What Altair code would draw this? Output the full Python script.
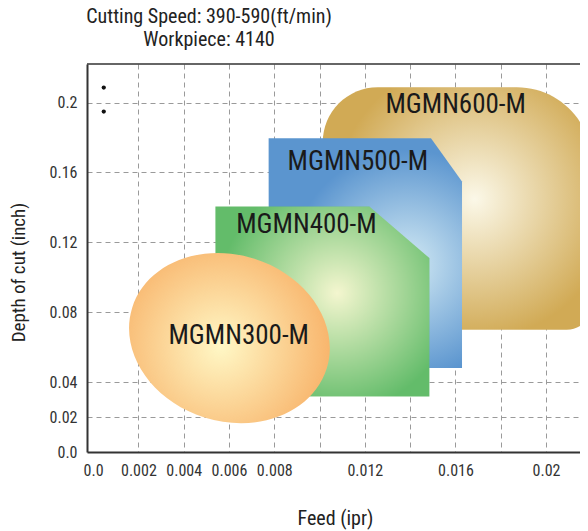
import altair as alt
import pandas as pd

# ---------------- axis ticks ----------------
x_grid_values = [0.002, 0.004, 0.006, 0.008, 0.010, 0.012, 0.014, 0.016, 0.018, 0.020]
x_label_values = [0.0, 0.002, 0.004, 0.006, 0.008, 0.012, 0.016, 0.02]
x_label_texts = ["0.0", "0.002", "0.004", "0.006", "0.008", "0.012", "0.016", "0.02"]
y_label_values = [0.0, 0.02, 0.04, 0.08, 0.12, 0.16, 0.2]
y_label_texts = ["0.0", "0.02", "0.04", "0.08", "0.12", "0.16", "0.2"]

# ---------------- application regions (feed ipr, depth inch) ----------------
gold_feed = [0.01014, 0.02202]
gold_depth = [0.0700, 0.2088]

blue_feed = [0.00775, 0.01492, 0.01629]
blue_top = [0.1796, 0.1796, 0.1548]
blue_bottom = [0.0481, 0.0481, 0.0481]

green_feed = [0.00540, 0.01220, 0.01485]
green_top = [0.1405, 0.1405, 0.1110]
green_bottom = [0.0318, 0.0318, 0.0318]

orange_feed = [0.00602]
orange_depth = [0.0652]

label_names = ["MGMN600-M", "MGMN500-M", "MGMN400-M", "MGMN300-M"]
label_feed = [0.01601, 0.01169, 0.00942, 0.00643]
label_depth = [0.1985, 0.1662, 0.1302, 0.0664]

dot_feed = [0.00047, 0.00047]
dot_depth = [0.2086, 0.1949]

title_lines = ["Cutting Speed: 390-590(ft/min)", "Workpiece: 4140"]

# ---------------- helpers ----------------
FONT = "Roboto Condensed, Liberation Sans Narrow, Arial Narrow, Liberation Sans, sans-serif"


def label_expr(values, texts):
    expr = "''"
    for v, t in reversed(list(zip(values, texts))):
        expr = f"datum.value === {v!r} ? '{t}' : ({expr})"
    return expr


def radial(cx, cy, r, inner, outer):
    return {
        "gradient": "radial",
        "x1": cx, "y1": cy, "r1": 0,
        "x2": cx, "y2": cy, "r2": r,
        "stops": [
            {"offset": 0, "color": inner},
            {"offset": 1, "color": outer},
        ],
    }


W, H = 493, 388
x_scale = alt.Scale(domain=[-0.00027, 0.02150], nice=False, zero=False)
y_scale = alt.Scale(domain=[0.0, 0.2221], nice=False, zero=False)

x_axis = alt.Axis(
    values=sorted([0.0] + x_grid_values),
    labelExpr=label_expr(x_label_values, x_label_texts),
    title="Feed (ipr)", titleFontSize=20,
    titleX=248, titleY=72, titleAlign="center", titleBaseline="alphabetic",
    labelPadding=10,
    gridOpacity={"condition": {"test": "datum.value === 0", "value": 0}, "value": 1},
)
y_axis = alt.Axis(
    values=y_label_values,
    labelExpr=label_expr(y_label_values, y_label_texts),
    title="Depth of cut (inch)", titleFontSize=19,
    titleX=-63, titleY=208, titleAlign="center", titleBaseline="alphabetic", titleAngle=270,
    labelPadding=10,
    gridOpacity={"condition": {"test": "datum.value === 0", "value": 0}, "value": 1},
)

X = alt.X("feed:Q", scale=x_scale, axis=x_axis)
Y = alt.Y("depth:Q", scale=y_scale, axis=y_axis)

gold_df = pd.DataFrame({"feed": [gold_feed[0]], "feed2": [gold_feed[1]],
                        "depth": [gold_depth[0]], "depth2": [gold_depth[1]]})
blue_df = pd.DataFrame({"feed": blue_feed, "depth": blue_top, "depth2": blue_bottom})
green_df = pd.DataFrame({"feed": green_feed, "depth": green_top, "depth2": green_bottom})
orange_df = pd.DataFrame({"feed": orange_feed, "depth": orange_depth})
label_df = pd.DataFrame({"feed": label_feed, "depth": label_depth, "name": label_names})
dot_df = pd.DataFrame({"feed": dot_feed, "depth": dot_depth})

gold = alt.Chart(gold_df).mark_rect(
    fill=radial(0.565, 0.465, 0.52, "#FBF8E8", "#D1AA55"),
    cornerRadiusTopLeft=55, cornerRadiusTopRight=75,
    cornerRadiusBottomRight=25, cornerRadiusBottomLeft=20,
    clip=True,
).encode(x=X, x2="feed2:Q", y=Y, y2="depth2:Q")

blue = alt.Chart(blue_df).mark_area(
    fill=radial(0.68, 0.55, 0.5, "#D3EAF4", "#5B95CF"),
).encode(x=X, y=Y, y2="depth2:Q")

green = alt.Chart(green_df).mark_area(
    fill=radial(0.57, 0.46, 0.55, "#F4F6CF", "#63BC6A"),
).encode(x=X, y=Y, y2="depth2:Q")

orange = alt.Chart(orange_df).mark_point(
    shape="M-1,0A1,0.8165,0,1,1,1,0A1,0.8165,0,1,1,-1,0Z",
    size=41534, angle=17.4, filled=True, opacity=1, strokeWidth=0,
    fill=radial(0.47, 0.55, 0.55, "#FFF8C6", "#F8B46B"),
).encode(x=X, y=Y)

labels = alt.Chart(label_df).mark_text(
    font=FONT, fontSize=27, color="#1a1a1a", align="center", baseline="middle",
).encode(x=X, y=Y, text="name:N")

dots = alt.Chart(dot_df).mark_circle(size=18, color="#111", opacity=1).encode(x=X, y=Y)

# top frame line of the plot area (the right side is open, as in the original)
frame_top = alt.Chart(dot_df.head(1)).mark_rule(color="#333", strokeWidth=1.5).encode(
    x=alt.value(0), x2=alt.value(W), y=alt.value(0)
)

chart = alt.layer(gold, blue, green, orange, labels, dots, frame_top).properties(
    width=W, height=H,
    padding={"left": 79, "top": 56, "right": 0, "bottom": 79},
    autosize=alt.AutoSizeParams(type="none"),
    title=alt.TitleParams(
        title_lines, anchor="start", align="center", frame="group",
        dx=122, dy=19, offset=12, font=FONT, fontSize=20, fontWeight="normal",
        color="#222", lineHeight=23, baseline="bottom",
    ),
).configure_view(
    stroke=None,
).configure_axis(
    domainColor="#333", domainWidth=2, ticks=False, tickSize=0,
    gridColor="#9a9a9a", gridDash=[5, 4], gridWidth=1,
    labelFont=FONT, labelFontSize=16, labelColor="#333",
    titleFont=FONT, titleFontWeight="normal", titleColor="#222",
)

chart.save("out.html", embed_options={"renderer": "svg", "actions": False})
